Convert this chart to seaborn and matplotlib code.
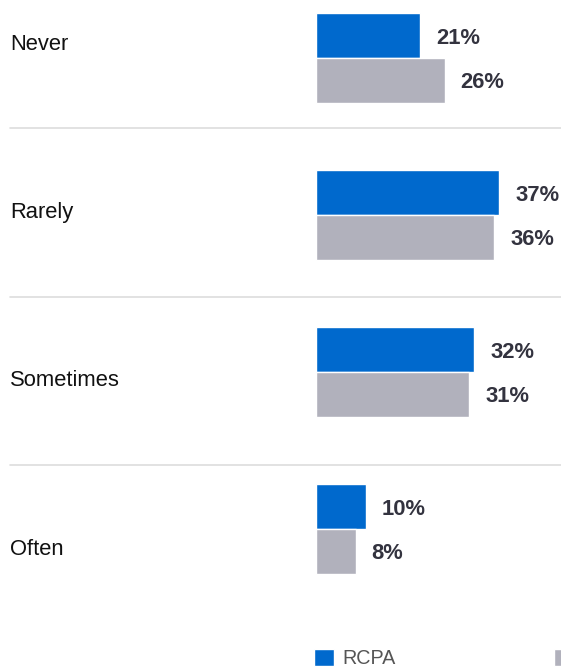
import matplotlib
matplotlib.use("Agg")
import matplotlib.pyplot as plt
import pandas as pd
import seaborn as sns
from matplotlib.lines import Line2D

# data
categories = ['Never', 'Rarely', 'Sometimes', 'Often']
rcpa = [21, 37, 32, 10]
overall = [26, 36, 31, 8]
series_names = ['RCPA', 'Overall']
colors = ['#0069CD', '#B1B1BC']

df = pd.DataFrame({
    'category': categories * 2,
    'value': rcpa + overall,
    'series': [series_names[0]] * len(categories) + [series_names[1]] * len(categories),
})

sns.set_style('white')
plt.rcParams['font.family'] = ['Liberation Sans', 'DejaVu Sans']

W, H = 561, 669
fig = plt.figure(figsize=(W / 100, H / 100), dpi=100)

# bars live in an axes starting at x=316px and covering the full height
ax = fig.add_axes([316 / W, 0, 1 - 316 / W, 1])
sns.barplot(data=df, y='category', x='value', hue='series', order=categories,
            hue_order=series_names, palette=colors, orient='h', width=0.573,
            ax=ax, saturation=1, legend=True)

# 157 px between category centres, first one at 58 px from top
step = 157.0
ax.set_ylim((H - 58) / step, -58 / step)
ax.set_xlim(0, (W - 316) / 4.95)
ax.axis('off')

for cont in ax.containers:
    txts = ax.bar_label(cont, labels=[f'{v:.0f}%' for v in cont.datavalues],
                        padding=11.5, fontsize=15.8, fontweight='bold',
                        color='#33333F')
    for t in txts:
        t.set_va('center_baseline')

handles, labels = ax.get_legend_handles_labels()
ax.get_legend().remove()

# category labels and separators follow their own row layout
row_h = 168.4
first = 44
for i, cat in enumerate(categories):
    y = first + i * row_h
    fig.text(10 / W, 1 - y / H, cat, fontsize=15.8, color='#111111',
             ha='left', va='center')
    if i < len(categories) - 1:
        ys = 1 - (y + row_h / 2) / H
        fig.add_artist(Line2D([10 / W, 1], [ys, ys], color='#DDDDDD', lw=1.2,
                              transform=fig.transFigure))

# second legend entry runs off the right edge, as in the reference
leg = fig.legend(handles, labels, loc='lower left',
                 bbox_to_anchor=(302 / W, -11 / H), ncol=2, frameon=False,
                 fontsize=14.2, handlelength=1.0, handleheight=1.0,
                 handletextpad=0.45, columnspacing=8.05, borderpad=0.1)
for t in leg.get_texts():
    t.set_color('#555555')

fig.savefig('out.png', dpi=100)
